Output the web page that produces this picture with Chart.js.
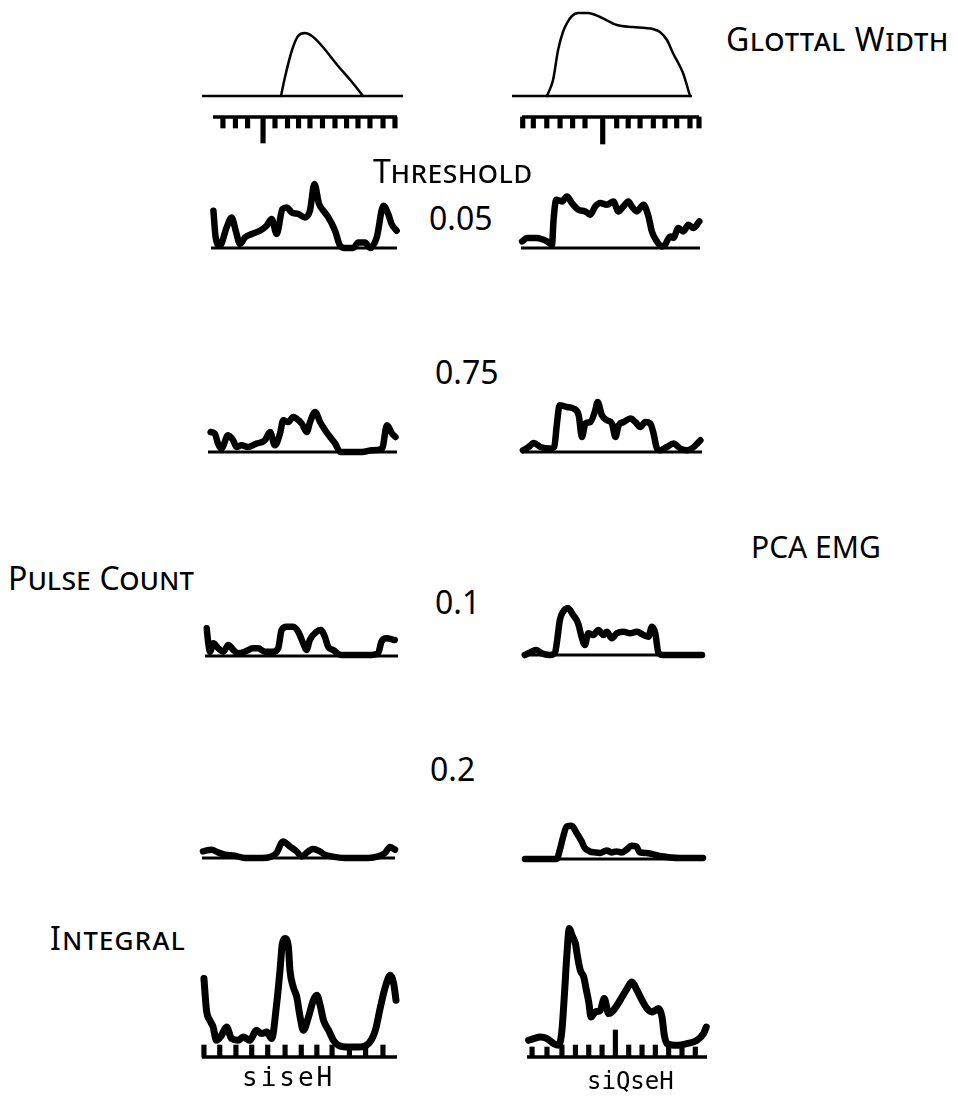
<!DOCTYPE html>
<html>
<head>
<meta charset="utf-8">
<script src="https://cdn.jsdelivr.net/npm/chart.js@4.4.1/dist/chart.umd.min.js"></script>
<style>
  html, body { margin: 0; padding: 0; background: #fff; }
  body { width: 958px; height: 1098px; position: relative; overflow: hidden; }
  .lbl { position: absolute; font-family: "Noto Sans", sans-serif; font-size: 32px; line-height: 1; color: #000; white-space: nowrap; }
  .sc { font-variant: small-caps; }
  .mono { font-family: "DejaVu Sans Mono", monospace; }
  canvas { position: absolute; }
</style>
</head>
<body>
<script>
// ---- text ----
const headingGlottal = 'Glottal Width';
const headingThreshold = 'Threshold';
const headingPulse = 'Pulse Count';
const headingEmg = 'PCA EMG';
const headingIntegral = 'Integral';
const thresholds = ['0.05', '0.75', '0.1', '0.2'];
const utterances = ['siseH', 'siQseH'];

// ---- glottal width (time in % of sweep, width in arbitrary units) ----
const glottalLeftT  = [39.3, 41.3, 44.8, 47.8, 51.2, 54.7, 59.7, 67.7, 74.6, 80.1];
const glottalLeftH  = [0, 19, 46, 60, 63, 60, 50, 30, 14, 0];
const glottalRightT = [19.4, 22.8, 25.6, 28.3, 30.6, 33.3, 36.7, 42.2, 48.9, 58.3, 67.2, 73.9, 78.3, 82.2, 86.1, 89.4, 95, 98.9];
const glottalRightH = [0, 16, 46, 64, 73, 80, 83, 83, 79, 71, 69, 68, 67, 64, 56, 43, 23, 0];

// ---- time markers under the glottal traces ----
const markLeftT  = [5.4, 12.2, 18.8, 27.2, 33.7, 40.5, 46.5, 52.7, 59.5, 66.3, 72.6, 78.8, 85.3, 92.4, 98.9];
const markLeftL  = [11, 11, 11, 26, 11, 11, 11, 11, 11, 11, 11, 11, 11, 11, 11];
const markRightT = [0.4, 6.4, 14, 21.5, 28.6, 35.6, 45.6, 53.5, 60, 66.7, 74.2, 80.8, 87.4, 94.9, 100];
const markRightL = [11, 11, 11, 11, 11, 11, 27, 11, 11, 11, 11, 11, 11, 11, 11];

// ---- pulse count, threshold 0.05 ----
const p005LeftT = [1.3, 2.5, 4.8, 8.4, 11.1, 13.3, 15.6, 18.3, 21.9, 26.3, 29.9, 32.6, 35.3, 38.4, 40.7, 43.4, 47, 50.5, 53.2, 55.6, 58.1, 60.4, 63.1, 66.7, 69.4, 72, 76.5, 79.2, 82.8, 85.5, 89.1, 92.7, 95.3, 97.1, 99.8];
const p005LeftH = [37.3, 10.6, 2.3, 20.6, 30.6, 17.3, 4, 10.6, 14, 17.3, 22.3, 29, 14, 39, 40.6, 35.6, 34, 30.6, 37.3, 64, 44, 37.3, 30.6, 17.3, 2.3, 0, 0, 5.6, 5.6, 0, 10.6, 42.3, 34, 24, 17.3];
const p005RightT = [0.6, 3.3, 8.9, 14.5, 17.3, 18.2, 19.7, 22.9, 25.7, 28.4, 32.1, 35.9, 38.7, 41.5, 44.2, 48, 51.6, 54.4, 57.2, 60, 61.9, 64.7, 68.4, 71.2, 73.1, 75.9, 78.6, 80.5, 83.3, 85.1, 87.9, 90.7, 93.5, 96.3, 99.6];
const p005RightH = [6.6, 10, 10, 6.6, 3.3, 28.3, 48.3, 46.6, 51.6, 45, 38.3, 36.6, 33.3, 41.6, 45, 43.3, 46.6, 36.6, 41.6, 46.6, 41.6, 36.6, 43.3, 31.6, 16.6, 6.6, 1.6, 3.3, 11.6, 10, 20, 16.6, 23.3, 20, 26.6];

// ---- pulse count, threshold 0.75 ----
const p075LeftT = [1.4, 3.6, 5.3, 7.1, 10.6, 13.3, 15.1, 17.7, 21.2, 25.7, 30.1, 32.8, 35.4, 38.1, 39.8, 42.5, 45.1, 46.9, 49.6, 52.3, 54, 56.7, 59.3, 62, 64.6, 67.3, 70, 74.3, 81.5, 86.8, 92.1, 94.7, 97.4, 99.2];
const p075LeftH = [20, 18.4, 8.4, 3.4, 16.7, 11.7, 5, 6.7, 5, 8.4, 11.7, 20, 6.7, 18.4, 31.7, 30, 35, 33.4, 28.4, 20, 30, 40, 30, 21.7, 15, 8.4, 0, 0, 0, 1.7, 3.4, 26.7, 18.4, 15];
const p075RightT = [0.5, 3.7, 6.5, 10.2, 15.7, 17.9, 19.4, 20.9, 25, 28.7, 31.5, 33.3, 35.2, 38, 40.7, 42, 44.4, 47.2, 50, 51.9, 53.7, 56.5, 60.2, 63, 65.7, 68.5, 71.3, 73.1, 75, 76.8, 80.5, 84.2, 88, 91.7, 95.4, 99.1];
const p075RightH = [1.7, 5, 9, 5, 3.4, 5, 28.4, 46.7, 45, 43.4, 36.7, 15, 28.4, 30, 41.7, 50, 36.7, 31.7, 28.4, 15, 26.7, 30, 33.4, 30, 25, 30, 28.4, 18.4, 3.4, 1.7, 5, 8.4, 3.4, 1.7, 5, 11.7];

// ---- pulse count, threshold 0.1 ----
const p01LeftT = [0.9, 1.7, 2.6, 4.3, 6.9, 9.5, 12.1, 14.7, 17.2, 20.7, 25, 27.6, 31, 35.3, 37.9, 39.7, 42.3, 45.7, 48.3, 50.9, 52.6, 54.3, 57.8, 60, 62.1, 63.8, 66.4, 70.7, 77.6, 84.5, 89.7, 91.4, 94, 98.3];
const p01LeftH = [27.7, 12.7, 4.3, 12.7, 7.7, 4.3, 11, 6, 2.7, 4.3, 7.7, 7.7, 4.3, 4.3, 7.7, 26, 29.3, 29.3, 24.3, 12.7, 6, 16, 24.3, 26, 19.3, 9.3, 6, 1, 1, 1, 2.7, 14.3, 17.7, 16];
const p01RightT = [1, 4.7, 7.5, 10.3, 15, 17.8, 19.1, 20.6, 22.4, 25.2, 28, 30.8, 32.7, 34.6, 36.5, 39.3, 42.1, 44.9, 46.8, 49.6, 52.4, 56.1, 59.8, 63.6, 67.3, 70.1, 72, 73.9, 75.7, 78.5, 100];
const p01RightH = [0, 3.3, 5, 1.7, 0, 1.7, 15, 35, 43.3, 46.7, 40, 31.7, 18.3, 10, 21.7, 20, 25, 20, 23.3, 16.7, 21.7, 23.3, 21.7, 23.3, 20, 18.3, 28.3, 21.7, 1.7, 0, 0];

// ---- pulse count, threshold 0.2 ----
const p02LeftT = [0.5, 4.9, 8.3, 11.8, 17, 22.2, 30.8, 36, 38.6, 42, 45.5, 49, 51.6, 55, 57.6, 61.1, 63.7, 67.2, 74.1, 86.1, 91.3, 94.8, 97.4, 100];
const p02LeftH = [6.6, 8.3, 5.6, 3.3, 2.3, 0, 0, 1.6, 5, 16.6, 11.6, 6.6, 1.6, 6.6, 9, 6.6, 3.3, 1.6, 0, 0, 1.6, 5, 11, 8.3];
const p02RightT = [0, 17.8, 19.6, 21.5, 23.4, 26.2, 29, 31.8, 33.6, 36.4, 39.3, 42.1, 45.8, 48.6, 51.4, 54.2, 57, 59.8, 62.6, 64.5, 68.3, 75.7, 86.9, 100];
const p02RightH = [0, 0, 9.3, 22.6, 32.6, 33.3, 26, 17.6, 11, 7.6, 6.6, 6, 8.6, 6.6, 7.6, 6.6, 9.3, 13.3, 12.6, 6.6, 6, 3, 1, 1];

// ---- integrated EMG ----
const intLeftT = [1, 2.3, 4, 5.7, 7.4, 10, 12.6, 15.1, 18.5, 21.1, 24.5, 27.9, 30.6, 33.2, 35.7, 38.3, 40, 41.2, 42.6, 44.3, 45.1, 46.8, 48.6, 50.3, 52, 54.6, 57.1, 58.9, 60.6, 62.3, 64.9, 67.4, 70, 75.1, 80.3, 85.4, 88.9, 91.5, 94, 96.6, 98.3, 99.5];
const intLeftH = [78.4, 46.7, 36.7, 30, 16.7, 21.7, 30, 18.4, 16.7, 20, 16.7, 26.7, 23.4, 25, 18.4, 53.4, 86.7, 113.4, 118.4, 110, 86.7, 70, 60, 40, 26.7, 40, 56.7, 61.7, 51.7, 36.7, 26.7, 16.7, 11.7, 10, 10, 13.4, 26.7, 50, 70, 81.7, 73.4, 56.7];
const intRightT = [0.9, 3.7, 7.4, 11.1, 14.8, 17.6, 19.4, 20.7, 22.2, 23.5, 25, 26.9, 28.1, 29.6, 31.5, 33, 34.3, 35.6, 37.9, 40.7, 42.9, 45.4, 47.2, 50, 52.8, 55.6, 58.3, 61.1, 63.9, 66.7, 69.4, 71.3, 73.1, 75, 76.3, 77.8, 83.3, 88.9, 94.4, 98.1, 99.6];
const intRightH = [16.7, 18.4, 20, 18.4, 13.4, 11.7, 26.7, 60, 103.4, 128.4, 121.7, 113.4, 100, 86.7, 80, 66.7, 55, 40, 45, 46.7, 58.4, 43.4, 45, 51.7, 60, 68.4, 75, 66.7, 56.7, 48.4, 45, 46.7, 48.4, 40, 21.7, 13.4, 11.7, 13.4, 16.7, 23.4, 30];
const intMarkLeftT  = [1, 9.1, 17.4, 25.5, 33.7, 42.6, 50.9, 58.9, 66.7, 75.6, 83.9, 92.8];
const intMarkLeftL  = [12, 12, 12, 12, 12, 12, 12, 12, 12, 12, 12, 12];
const intMarkRightT = [2.8, 11.1, 19.4, 26.9, 34.3, 41.7, 49.1, 56.5, 63.9, 71.3, 78.7, 86.1, 93.5];
const intMarkRightL = [10, 10, 12, 12, 12, 12, 27, 12, 12, 12, 12, 10, 10];

// ---- panel placement on the page ----
const panels = [
  { x0: 202, x1: 403, y0: 96,   yMin: 0,   yMax: 68,  base: 2.5, lines: [[glottalLeftT, glottalLeftH, 2.5]] },
  { x0: 512, x1: 692, y0: 96,   yMin: 0,   yMax: 88,  base: 2.5, lines: [[glottalRightT, glottalRightH, 2.5]] },
  { x0: 213, x1: 397, y0: 117,  yMin: -28, yMax: 0,   base: 3.5, lines: [], marks: [markLeftT, markLeftL, 4.5] },
  { x0: 522, x1: 699, y0: 117,  yMin: -28, yMax: 0,   base: 3.5, lines: [], marks: [markRightT, markRightL, 4.5] },
  { x0: 211, x1: 397, y0: 248,  yMin: 0,   yMax: 68,  base: 3,   lines: [[p005LeftT, p005LeftH, 6.5]] },
  { x0: 521, x1: 700, y0: 248,  yMin: 0,   yMax: 56,  base: 3,   lines: [[p005RightT, p005RightH, 6.5]] },
  { x0: 208, x1: 397, y0: 452,  yMin: 0,   yMax: 44,  base: 3,   lines: [[p075LeftT, p075LeftH, 6.5]] },
  { x0: 522, x1: 702, y0: 452,  yMin: 0,   yMax: 52,  base: 3,   lines: [[p075RightT, p075RightH, 6.5]] },
  { x0: 205, x1: 398, y0: 656,  yMin: 0,   yMax: 32,  base: 3,   lines: [[p01LeftT, p01LeftH, 6.5]] },
  { x0: 523, x1: 702, y0: 655,  yMin: 0,   yMax: 50,  base: 3,   lines: [[p01RightT, p01RightH, 6.5]] },
  { x0: 202, x1: 395, y0: 858,  yMin: 0,   yMax: 20,  base: 3,   lines: [[p02LeftT, p02LeftH, 6.5]] },
  { x0: 525, x1: 703, y0: 859,  yMin: 0,   yMax: 36,  base: 3,   lines: [[p02RightT, p02RightH, 6.5]] },
  { x0: 202, x1: 397, y0: 1057, yMin: 0,   yMax: 122, base: 3.5, lines: [[intLeftT, intLeftH, 7]],  marks: [intMarkLeftT, intMarkLeftL, 4.5] },
  { x0: 527, x1: 707, y0: 1057, yMin: 0,   yMax: 132, base: 3.5, lines: [[intRightT, intRightH, 7]], marks: [intMarkRightT, intMarkRightL, 4.5] }
];

const PAD = 7;

function drawPanel(p) {
  const w = p.x1 - p.x0 + 2 * PAD;
  const h = p.yMax - p.yMin + 2 * PAD;
  const cv = document.createElement('canvas');
  cv.width = w; cv.height = h;
  cv.style.left = (p.x0 - PAD) + 'px';
  cv.style.top = (p.y0 - p.yMax - PAD) + 'px';
  cv.style.width = w + 'px';
  cv.style.height = h + 'px';
  document.body.appendChild(cv);

  const datasets = [];
  p.lines.forEach(([t, v, lw]) => {
    datasets.push({
      type: 'line',
      data: t.map((x, i) => ({ x, y: v[i] })),
      borderColor: '#000', borderWidth: lw,
      pointRadius: 0, cubicInterpolationMode: 'monotone',
      borderJoinStyle: 'round', borderCapStyle: 'round', fill: false, clip: false
    });
  });
  // baseline / marker spine
  datasets.push({
    type: 'line',
    data: [{ x: 0, y: 0 }, { x: 100, y: 0 }],
    borderColor: '#000', borderWidth: p.base, pointRadius: 0, clip: false
  });
  if (p.marks) {
    const [t, len, bw] = p.marks;
    const sign = p.yMin < 0 ? -1 : 1;
    datasets.push({
      type: 'bar',
      data: t.map((x, i) => ({ x, y: sign * len[i] })),
      backgroundColor: '#000', borderWidth: 0, barThickness: bw, clip: false
    });
  }

  new Chart(cv, {
    type: 'line',
    data: { datasets },
    options: {
      responsive: false, animation: false, devicePixelRatio: 1,
      layout: { padding: PAD },
      plugins: { legend: { display: false }, tooltip: { enabled: false } },
      scales: {
        x: { type: 'linear', min: 0, max: 100, display: false, offset: false },
        y: { type: 'linear', min: p.yMin, max: p.yMax, display: false }
      }
    }
  });
}

panels.forEach(drawPanel);

// ---- labels ----
function label(text, left, top, cls, extra) {
  const d = document.createElement('div');
  d.className = 'lbl ' + (cls || '');
  d.textContent = text;
  d.style.left = left + 'px';
  d.style.top = top + 'px';
  if (extra) Object.assign(d.style, extra);
  document.body.appendChild(d);
}

label(headingGlottal, 726, 23, 'sc', { letterSpacing: '0.6px' });
label(headingThreshold, 373, 155, 'sc', { letterSpacing: '0.7px' });
label(thresholds[0], 429, 202);
label(thresholds[1], 435, 356);
label(headingPulse, 8, 562, 'sc', { letterSpacing: '0.3px' });
label(headingEmg, 751, 532, '', { fontSize: '30px' });
label(thresholds[2], 435, 586);
label(thresholds[3], 430, 753);
label(headingIntegral, 50, 922, 'sc', { letterSpacing: '1.3px' });
label(utterances[0], 242, 1064, 'mono', { fontSize: '26px', letterSpacing: '3px' });
label(utterances[1], 587, 1069, 'mono', { fontSize: '24px' });
</script>
</body>
</html>
